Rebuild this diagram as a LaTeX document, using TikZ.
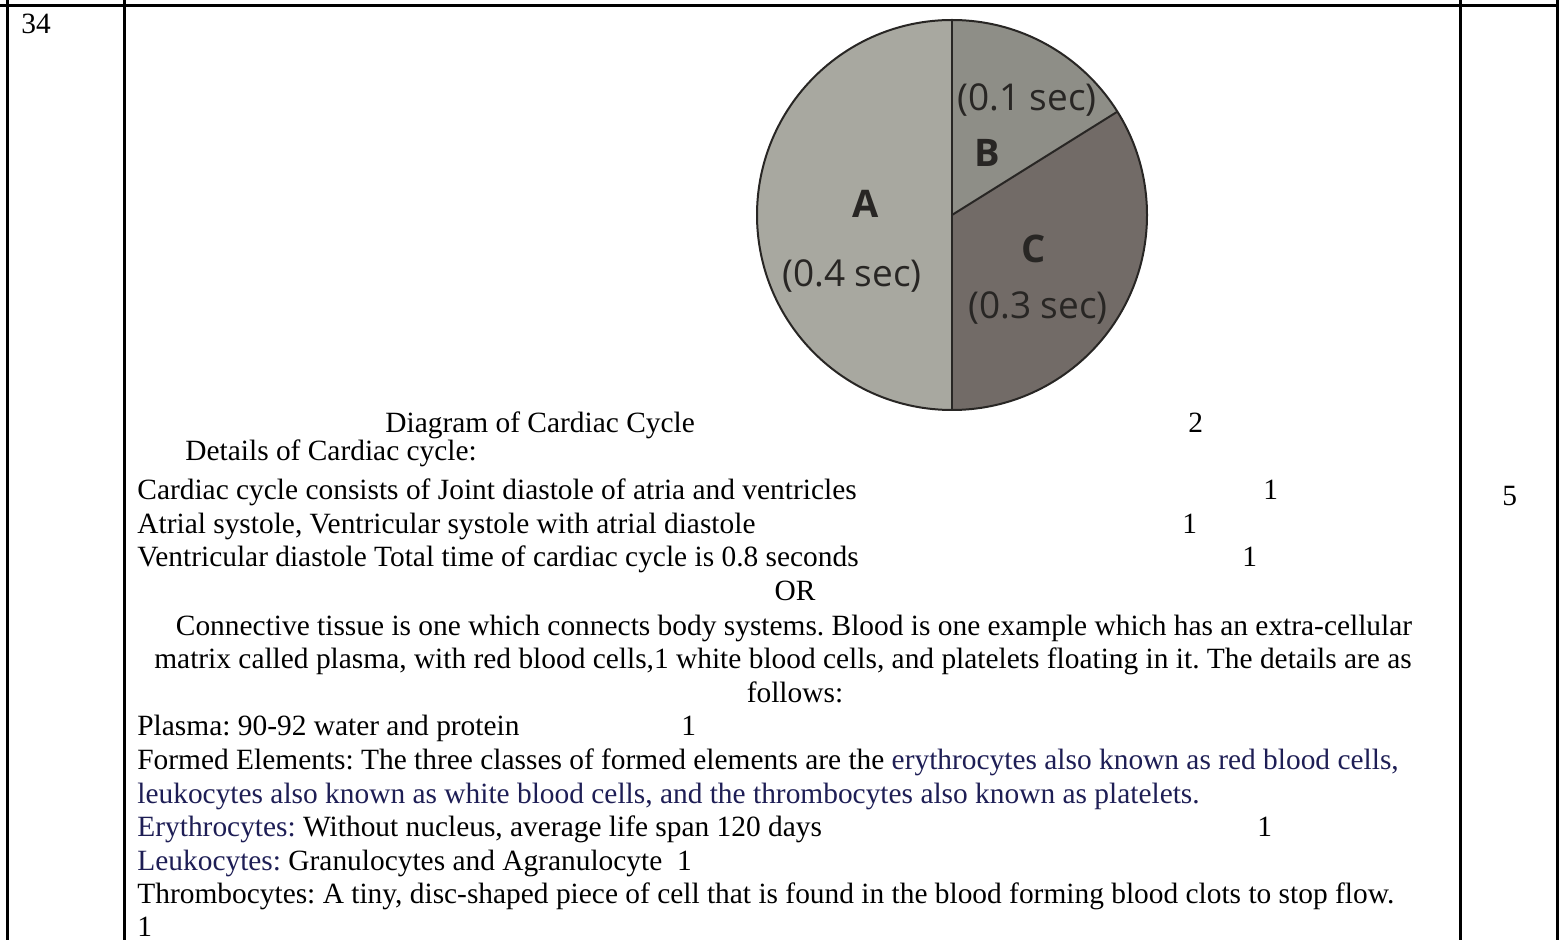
\documentclass[tikz,border=0pt]{standalone}
\usepackage{fontspec}
\setmainfont{Liberation Serif}
\newfontfamily\piefont{Open Sans}
\usetikzlibrary{positioning}
\frenchspacing
\definecolor{navytext}{RGB}{30,30,85}
\definecolor{sliceA}{RGB}{168,168,160}
\definecolor{sliceB}{RGB}{142,142,135}
\definecolor{sliceC}{RGB}{114,107,103}
\definecolor{pieink}{RGB}{40,38,36}

\tikzset{
  txt/.style={anchor=base west, inner sep=0pt, font=\fontsize{14.7}{17}\selectfont},
  ctxt/.style={txt, anchor=base},
  rule/.style={line width=1.5pt},
  pieedge/.style={line width=1pt, pieink},
  pielabel/.style={inner sep=0pt, text=pieink, font=\piefont\fontsize{18.5}{22}\selectfont},
  pieletter/.style={inner sep=0pt, text=pieink, font=\piefont\bfseries\fontsize{19}{22}\selectfont}
}

\begin{document}
\begin{tikzpicture}[x=0.5pt, y=-0.5pt]
  \useasboundingbox (0,0) rectangle (1562,940);

  % table rules
  \draw[rule] (0,6) -- (1557,6);
  \foreach \xpos in {7,124,1460,1557}
    \draw[rule] (\xpos,0) -- (\xpos,940);

  \node[txt] (qno) at (21,34) {34};
  \node[txt] (total) at (1502,506) {5};

  % cardiac cycle pie
  \coordinate (hub) at (952,215);
  \fill[sliceA] (hub) -- ++(-90:195) arc[start angle=-90, end angle=-270, radius=195] -- cycle;
  \fill[sliceB] (hub) -- ++(-90:195) arc[start angle=-90, end angle=-32, radius=195] -- cycle;
  \fill[sliceC] (hub) -- ++(-32:195) arc[start angle=-32, end angle=90, radius=195] -- cycle;
  \draw[pieedge] (hub) circle[radius=195];
  \draw[pieedge] (hub) ++(-90:195) -- ++(90:390);
  \draw[pieedge] (hub) -- ++(-32:195);

  \node[pieletter] (labA) at (866,204) {A};
  \node[pielabel] (secA) at (852,276) {(0.4 sec)};
  \node[pielabel] (secB) at (1027,100) {(0.1 sec)};
  \node[pieletter] (labB) at (987,153) {B};
  \node[pieletter] (labC) at (1034,249) {C};
  \node[pielabel] (secC) at (1038,308) {(0.3 sec)};

  % cardiac cycle answer
  \node[txt] (title) at (385,433) {Diagram of Cardiac Cycle};
  \node[txt] (mkTitle) at (1188,433) {2};
  \node[txt] (details) at (185,461) {Details of Cardiac cycle:};
  \node[txt] (phase1) at (137,500) {Cardiac cycle consists of Joint diastole of atria and ventricles};
  \node[txt] (mk1) at (1263,500) {1};
  \node[txt] (phase2) at (137,533) {Atrial systole, Ventricular systole with atrial diastole};
  \node[txt] (mk2) at (1182,533) {1};
  \node[txt] (phase3) at (137,567) {Ventricular diastole Total time of cardiac cycle is 0.8 seconds};
  \node[txt] (mk3) at (1242,567) {1};
  \node[ctxt] (orline) at (795,600) {OR};

  % blood as connective tissue
  \node[ctxt] (para1) at (794,635) {Connective tissue is one which connects body systems. Blood is one example which has an extra-cellular};
  \node[ctxt] (para2) at (783,668) {matrix called plasma, with red blood cells,1 white blood cells, and platelets floating in it. The details are as};
  \node[ctxt] (para3) at (795,702) {follows:};
  \node[txt] (plasma) at (137,735) {Plasma: 90-92 water and protein};
  \node[txt] (mkPlasma) at (681,735) {1};
  \node[txt] (formed1) at (137,769) {Formed Elements: The three classes of formed elements are the \textcolor{navytext}{erythrocytes also known as red blood cells,}};
  \node[txt, text=navytext] (formed2) at (137,803) {leukocytes also known as white blood cells, and the thrombocytes also known as platelets.};
  \node[txt] (rbc) at (137,836) {\textcolor{navytext}{Erythrocytes:} Without nucleus, average life span 120 days};
  \node[txt] (mkRbc) at (1257,836) {1};
  \node[txt] (wbc) at (137,870) {\textcolor{navytext}{Leukocytes:} Granulocytes and Agranulocyte~~1};
  \node[txt] (plt) at (137,903) {Thrombocytes: A tiny, disc-shaped piece of cell that is found in the blood forming blood clots to stop flow.};
  \node[txt] (mkPlt) at (137,936) {1};
\end{tikzpicture}
\end{document}
